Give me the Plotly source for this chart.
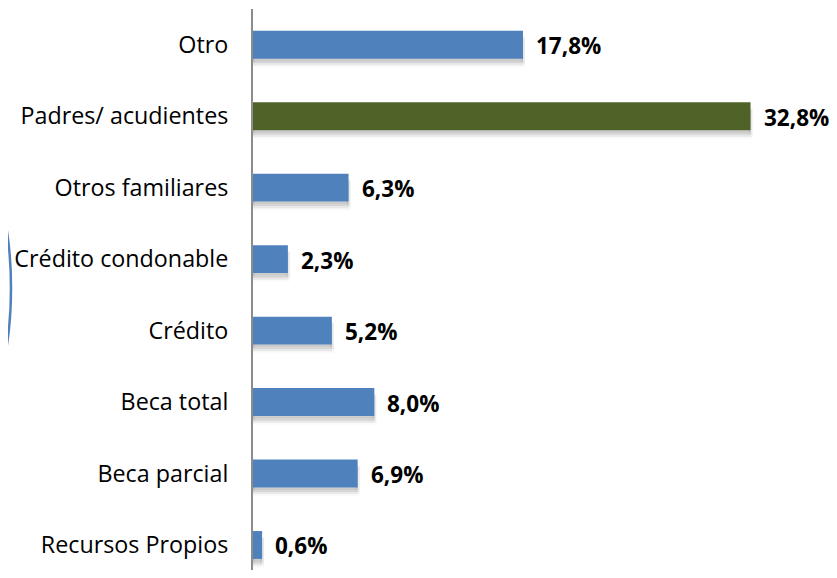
import plotly.graph_objects as go

categories = [
    "Recursos Propios",
    "Beca parcial",
    "Beca total",
    "Crédito",
    "Crédito condonable",
    "Otros familiares",
    "Padres/ acudientes",
    "Otro",
]
values = [0.6, 6.9, 8.0, 5.2, 2.3, 6.3, 32.8, 17.8]
highlight = "Padres/ acudientes"

BLUE = "#4F81BD"
GREEN = "#4F6228"
FONT = "Open Sans"

# the page body adds an 8px margin, so the figure is kept inside the window
W, H = 829, 562
L, T = 245, 1

colors = [GREEN if c == highlight else BLUE for c in categories]
labels = [f"{v:.1f}".replace(".", ",") + "%" for v in values]

fig = go.Figure()

# soft drop shadow under each bar (layers to fake a blur)
for off, w, a in [(-0.29, 0.38, 0.04), (-0.26, 0.34, 0.06), (-0.23, 0.30, 0.08)]:
    fig.add_trace(go.Bar(
        y=categories, x=values, orientation="h", width=w, offset=off,
        marker=dict(color=f"rgba(0,0,0,{a})", line=dict(color=f"rgba(0,0,0,{a / 2})", width=4)),
        hoverinfo="skip", showlegend=False,
    ))
fig.add_trace(go.Bar(
    y=categories, x=values, orientation="h", width=0.39,
    marker=dict(color=colors, line=dict(width=0)),
    showlegend=False,
))

for c, v, t in zip(categories, values, labels):
    fig.add_annotation(
        x=v, y=c, text=f"<b>{t}</b>", showarrow=False,
        xanchor="left", xshift=11, yshift=-1,
        font=dict(size=22.5, color="black", family=FONT),
    )

# partial blue outline peeking in from the left edge (pixel positions -> paper)
pw = W - L
ph = H - T
cx, cy, rx, ry = -61, 280, 64, 158
fig.add_shape(
    type="circle", xref="paper", yref="paper",
    x0=(cx - rx - L) / pw, x1=(cx + rx - L) / pw,
    y0=1 - (cy + ry - T) / ph, y1=1 - (cy - ry - T) / ph,
    line=dict(color=BLUE, width=2.5), layer="above",
)

fig.update_layout(
    width=W, height=H,
    margin=dict(l=L, r=0, t=T, b=0),
    plot_bgcolor="white", paper_bgcolor="white",
    barmode="overlay",
    font=dict(family=FONT, size=23, color="black"),
    xaxis=dict(range=[0, 38.5], visible=False, fixedrange=True, automargin=False),
    yaxis=dict(
        range=[-0.35, 7.5], showline=True, linecolor="#8c8c8c", linewidth=2,
        ticks="", ticklabelstandoff=18, showgrid=False, zeroline=False,
        automargin=False, tickfont=dict(size=23.3, family=FONT),
    ),
)

fig.write_html("out.html")
